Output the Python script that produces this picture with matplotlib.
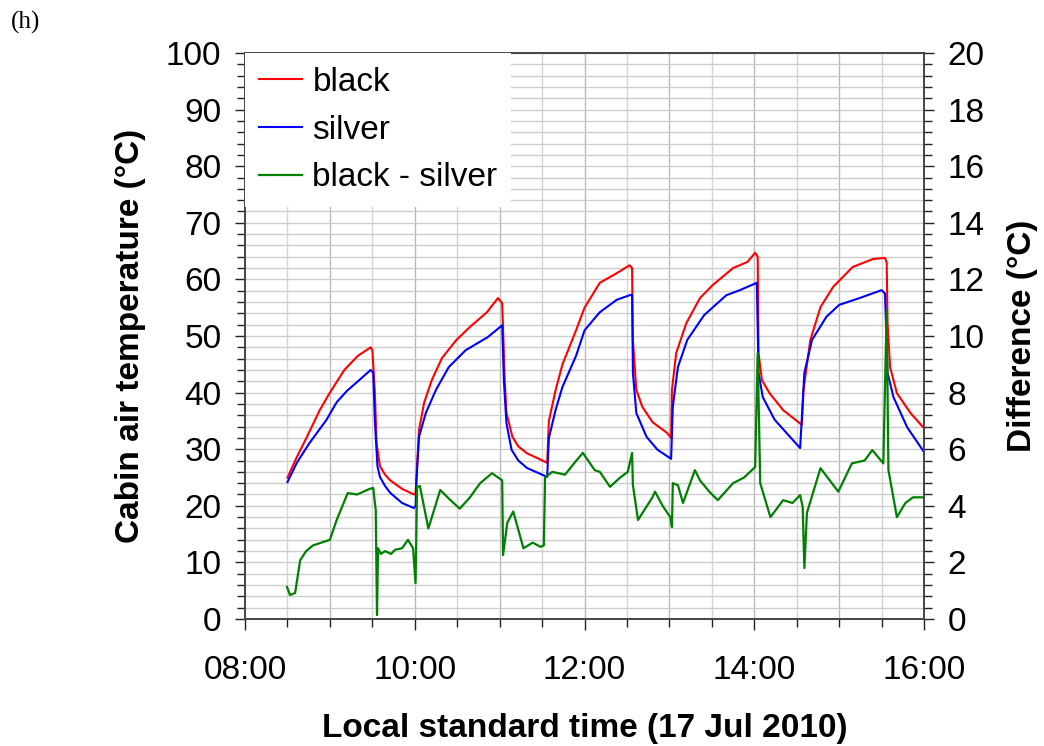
"""
Cabin air temperature, black vs silver car, 17 Jul 2010 -- panel (h)
"""

import numpy as np
import matplotlib.pyplot as plt
from matplotlib.ticker import MultipleLocator

plt.rcParams['font.family'] = ['Liberation Sans', 'DejaVu Sans']

# --- data (time in decimal hours) ---
t_black = [8.50, 8.61, 8.73, 8.88, 9.00, 9.17, 9.33, 9.48, 9.50,
           9.53, 9.55, 9.59, 9.65, 9.71, 9.85, 9.99,
           10.01, 10.05, 10.11, 10.20, 10.32, 10.49, 10.65, 10.85, 10.98, 11.03,
           11.06, 11.08, 11.15, 11.22, 11.32, 11.56,
           11.58, 11.66, 11.74, 11.90, 12.00, 12.18, 12.38, 12.53, 12.56,
           12.57, 12.61, 12.68, 12.80, 12.97, 13.02,
           13.03, 13.08, 13.20, 13.36, 13.51, 13.75, 13.92, 14.01, 14.04,
           14.05, 14.09, 14.18, 14.34, 14.56,
           14.58, 14.66, 14.78, 14.93, 15.16, 15.40, 15.54, 15.56,
           15.57, 15.60, 15.68, 15.84, 16.00]
black = [25.0, 28.6, 32.2, 36.9, 40.0, 44.0, 46.5, 48.0, 47.5,
         40.0, 31.0, 27.0, 25.5, 24.5, 23.0, 22.0,
         22.3, 33.4, 38.2, 42.2, 46.1, 49.3, 51.6, 54.2, 56.7, 55.8,
         42.2, 36.4, 32.2, 30.5, 29.3, 27.6,
         35.0, 40.5, 45.0, 51.0, 55.0, 59.4, 61.1, 62.5, 62.0,
         49.3, 40.5, 37.5, 34.8, 32.9, 32.0,
         40.5, 47.0, 52.3, 56.7, 59.0, 62.0, 63.1, 64.7, 64.0,
         47.0, 42.2, 39.9, 36.9, 34.3,
         40.5, 49.3, 55.1, 58.7, 62.2, 63.6, 63.8, 63.0,
         52.3, 44.5, 39.9, 36.4, 33.7]

t_silver = [8.50, 8.61, 8.76, 8.96, 9.08, 9.20, 9.33, 9.48, 9.51,
            9.53, 9.56, 9.59, 9.65, 9.71, 9.85, 9.99,
            10.01, 10.02, 10.05, 10.13, 10.25, 10.40, 10.60, 10.86, 11.03,
            11.05, 11.08, 11.14, 11.22, 11.32, 11.56,
            11.58, 11.66, 11.74, 11.90, 12.00, 12.18, 12.38, 12.53, 12.56,
            12.57, 12.61, 12.73, 12.86, 13.02,
            13.04, 13.10, 13.21, 13.41, 13.67, 13.83, 14.03,
            14.05, 14.10, 14.24, 14.42, 14.54,
            14.59, 14.68, 14.85, 15.00, 15.24, 15.50, 15.54,
            15.57, 15.64, 15.80, 16.00]
silver = [24.2, 27.6, 31.1, 35.2, 38.3, 40.3, 42.0, 44.0, 43.5,
          35.0, 27.0, 25.1, 23.5, 22.3, 20.5, 19.6,
          20.0, 24.6, 32.2, 36.4, 40.5, 44.5, 47.5, 49.8, 51.9,
          42.0, 34.6, 29.9, 28.0, 26.7, 25.1,
          32.0, 37.0, 41.0, 46.5, 51.0, 54.2, 56.4, 57.2, 57.3,
          43.5, 36.4, 32.2, 29.9, 28.3,
          37.5, 44.5, 49.3, 53.7, 57.2, 58.1, 59.4,
          43.5, 39.2, 35.2, 32.2, 30.2,
          43.5, 49.3, 53.4, 55.5, 56.7, 58.1, 57.5,
          43.5, 39.2, 33.9, 29.5]

t_diff = [8.495, 8.53, 8.59, 8.65, 8.72, 8.80, 9.00, 9.08, 9.21, 9.32, 9.47, 9.51,
          9.54, 9.555, 9.567, 9.60, 9.65, 9.72, 9.77, 9.85, 9.92, 9.98,
          10.009, 10.027, 10.06, 10.16, 10.30, 10.42, 10.53, 10.65, 10.77, 10.91, 11.03,
          11.04, 11.09, 11.16, 11.28, 11.39, 11.48, 11.52,
          11.535, 11.62, 11.77, 11.89, 11.98, 12.12, 12.18, 12.30, 12.42, 12.51,
          12.56, 12.57, 12.63, 12.80, 12.83, 12.92, 13.01, 13.03,
          13.04, 13.10, 13.16, 13.30, 13.36, 13.47, 13.57, 13.75, 13.88, 14.01,
          14.04, 14.07, 14.19, 14.34, 14.45, 14.54, 14.57, 14.59,
          14.62, 14.78, 14.99, 15.15, 15.30, 15.39, 15.52,
          15.56, 15.58, 15.68, 15.78, 15.87, 16.00]
diff = [1.13, 0.85, 0.92, 2.08, 2.4, 2.6, 2.8, 3.5, 4.45, 4.4, 4.6, 4.63,
        3.85, 0.14, 2.5, 2.3, 2.4, 2.3, 2.45, 2.5, 2.8, 2.5,
        1.27, 4.66, 4.7, 3.2, 4.56, 4.2, 3.9, 4.3, 4.8, 5.15, 4.9,
        2.26, 3.4, 3.8, 2.5, 2.7, 2.55, 2.6,
        5.0, 5.2, 5.1, 5.55, 5.87, 5.26, 5.2, 4.67, 5.0, 5.2,
        5.87, 4.73, 3.5, 4.3, 4.5, 4.0, 3.6, 3.25,
        4.8, 4.73, 4.1, 5.26, 4.9, 4.5, 4.2, 4.8, 5.0, 5.37,
        9.4, 4.8, 3.6, 4.2, 4.1, 4.38, 3.96, 1.8,
        3.75, 5.33, 4.5, 5.5, 5.6, 5.97, 5.5,
        10.9, 5.27, 3.6, 4.1, 4.3, 4.3]

xticks = [8, 10, 12, 14, 16]
xtick_labels = ['08:00', '10:00', '12:00', '14:00', '16:00']

# --- figure ---
fig = plt.figure(figsize=(10.44, 7.46), dpi=100)
ax = fig.add_axes([0.2347, 0.1702, 0.6504, 0.7588])
ax2 = ax.twinx()

l1, = ax.plot(t_black, black, color='#ff0000', lw=1.5, label='black')
l2, = ax.plot(t_silver, silver, color='#0000ff', lw=1.5, label='silver')
l3, = ax2.plot(t_diff, diff, color='#008000', lw=1.6, label='black - silver')

ax.set_xlim(8, 16)
ax.set_ylim(0, 100)
ax2.set_ylim(0, 20)

ax.set_xticks(xticks)
ax.set_xticklabels(xtick_labels)
ax.xaxis.set_minor_locator(MultipleLocator(0.5))
ax.yaxis.set_major_locator(MultipleLocator(10))
ax.yaxis.set_minor_locator(MultipleLocator(2))
ax2.yaxis.set_major_locator(MultipleLocator(2))
ax2.yaxis.set_minor_locator(MultipleLocator(0.4))

# grid: every 2 degC, every 30 min (hours a bit darker)
ax.grid(True, axis='y', which='both', color='#cccccc', lw=1)
for h in np.arange(8.5, 16, 0.5):
    c = '#b8b8b8' if h % 1 == 0 else '#d4d4d4'
    ax.axvline(h, color=c, lw=1, zorder=0.5)
ax.set_axisbelow(True)

for a in (ax, ax2):
    a.tick_params(axis='both', which='both', direction='out', labelsize=24,
                  width=1, color='#222222')
    a.tick_params(axis='y', which='major', length=7, pad=10)
    a.tick_params(axis='y', which='minor', length=6)
    for s in a.spines.values():
        s.set_color('#444444')
        s.set_linewidth(1.2)
ax.tick_params(axis='x', which='major', length=8, pad=18)
ax.tick_params(axis='x', which='minor', length=6)

ax.set_ylabel('Cabin air temperature (\u00b0C)', fontsize=24, fontweight='bold',
              labelpad=14)
ax2.set_ylabel('Difference (\u00b0C)', fontsize=24, fontweight='bold', labelpad=16)
ax.set_xlabel('Local standard time (17 Jul 2010)', fontsize=24, fontweight='bold',
              labelpad=19)

ax2.set_zorder(ax.get_zorder() + 1)
ax2.patch.set_visible(False)
leg = ax2.legend([l1, l2, l3], ['black', 'silver', 'black - silver'],
                 loc='upper left', fontsize=24, frameon=True, fancybox=False,
                 framealpha=1, edgecolor='none', borderaxespad=0.0,
                 handlelength=1.3, handletextpad=0.3, labelspacing=0.5,
                 borderpad=0.42)

fig.text(0.01, 0.97, '(h)', fontsize=18, family='Liberation Serif',
         va='center')

plt.savefig('out.png', dpi=100)
